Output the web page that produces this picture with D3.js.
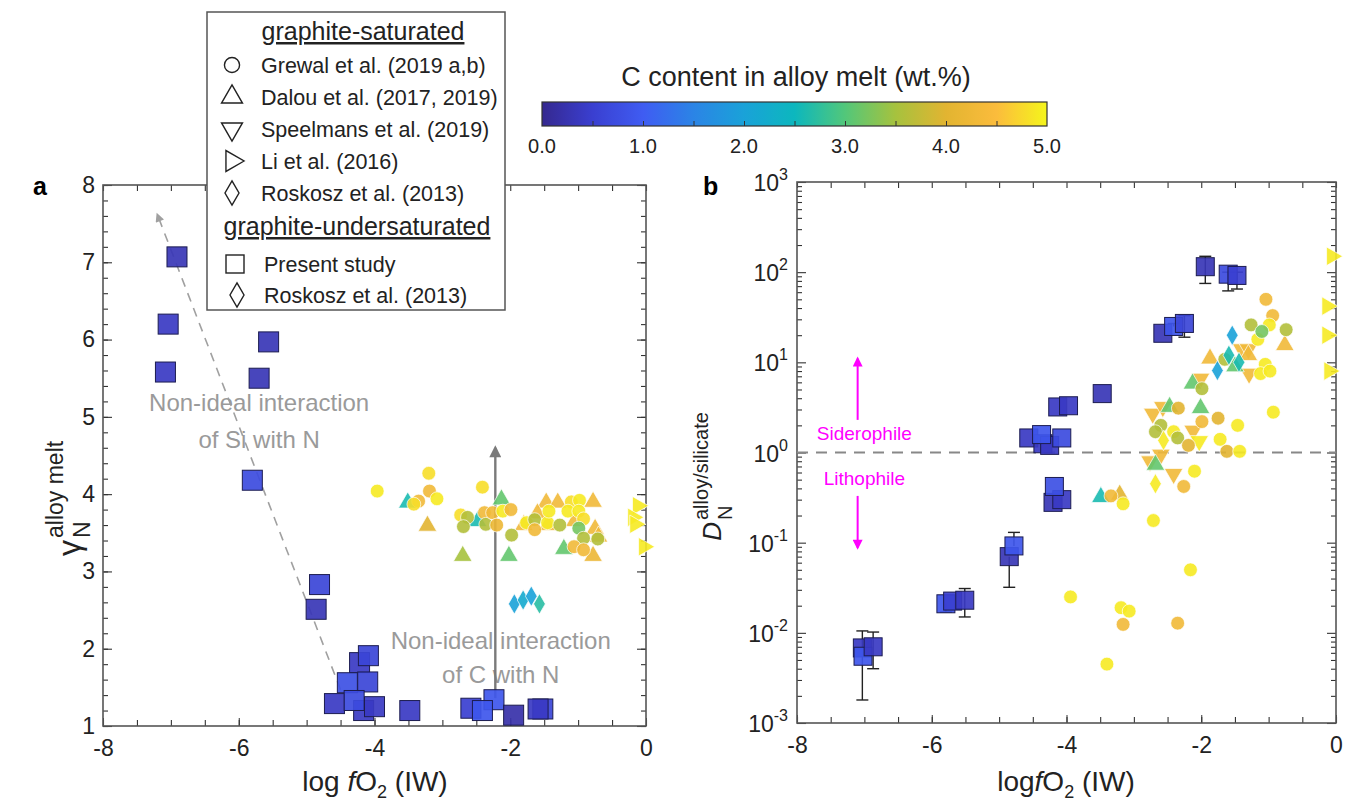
<!DOCTYPE html>
<html>
<head>
<meta charset="utf-8">
<script src="https://cdn.jsdelivr.net/npm/d3@7"></script>
<style>
  body { margin: 0; background: #fff; }
  text { font-family: "Liberation Sans", Arial, sans-serif; }
</style>
</head>
<body>
<div id="canvas"></div>
<script>
// ---- data ----
const cTicks = [0, 1, 2, 3, 4, 5];
const xTicks = [-8, -6, -4, -2, 0];
const aYTicks = [1, 2, 3, 4, 5, 6, 7, 8];
const bYExps = [-3, -2, -1, 0, 1, 2, 3];

// panel a: [log fO2, gamma_N, C wt%]
const aPresent = [
  [-6.91, 7.07, 0.3], [-7.04, 6.20, 0.4], [-7.08, 5.58, 0.4], [-5.56, 5.97, 0.3],
  [-5.70, 5.50, 0.3], [-5.80, 4.18, 0.7], [-4.81, 2.83, 0.6], [-4.86, 2.51, 0.3],
  [-4.16, 1.20, 0.4], [-4.22, 1.82, 0.4], [-4.09, 1.91, 0.6], [-4.40, 1.56, 0.8],
  [-4.10, 1.57, 0.6], [-4.59, 1.29, 0.4], [-4.30, 1.33, 0.7], [-4.00, 1.25, 0.4],
  [-3.48, 1.20, 0.4], [-2.58, 1.23, 0.5], [-2.24, 1.34, 0.9], [-2.41, 1.20, 0.9],
  [-1.95, 1.14, 0.2], [-1.52, 1.22, 0.6], [-1.59, 1.22, 0.4]
];
const aGrewal = [
  [-3.96, 4.04, 4.9], [-3.20, 4.27, 4.8], [-3.19, 4.04, 4.3], [-3.35, 3.91, 4.3],
  [-3.08, 3.94, 4.9], [-3.42, 3.87, 4.8], [-2.41, 4.09, 4.8], [-2.73, 3.73, 4.8],
  [-2.63, 3.70, 3.6], [-2.69, 3.58, 3.6], [-2.38, 3.76, 4.3], [-2.36, 3.61, 3.6],
  [-2.26, 3.76, 4.3], [-2.20, 3.60, 4.2], [-2.11, 3.78, 4.9], [-1.99, 3.80, 4.3],
  [-1.98, 3.47, 3.6], [-1.76, 3.63, 4.9], [-1.64, 3.67, 3.6], [-1.64, 3.54, 4.3],
  [-1.45, 3.63, 4.9], [-1.43, 3.78, 4.9], [-1.27, 3.60, 3.6], [-1.10, 3.90, 4.8],
  [-0.98, 3.92, 4.9], [-1.15, 3.78, 4.9], [-0.99, 3.78, 4.9], [-0.92, 3.68, 4.8],
  [-0.99, 3.56, 3.2], [-0.92, 3.43, 3.6], [-0.71, 3.42, 3.6], [-1.06, 3.32, 4.3],
  [-0.92, 3.28, 4.3]
];
const aDalou = [
  [-3.51, 3.89, 2.6], [-3.22, 3.59, 4.0], [-2.70, 3.20, 3.5], [-2.02, 3.20, 3.1],
  [-2.13, 3.93, 3.1], [-2.48, 3.65, 2.6], [-1.80, 3.60, 4.3], [-1.45, 3.60, 4.3],
  [-1.47, 3.89, 4.3], [-1.30, 3.89, 4.3], [-0.78, 3.90, 4.3], [-1.21, 3.29, 3.1],
  [-0.78, 3.20, 4.2], [-0.75, 3.55, 4.3], [-0.70, 3.45, 4.3], [-1.60, 3.75, 4.3],
  [-1.05, 3.65, 4.3]
];
const aLi = [[-0.12, 3.85, 4.9], [-0.19, 3.70, 4.9], [-0.16, 3.61, 4.9], [-0.03, 3.32, 4.9]];
const aRoskosz = [[-1.94, 2.58, 2.0], [-1.81, 2.63, 2.2], [-1.69, 2.68, 2.0], [-1.57, 2.58, 2.7]];

// panel b: [log fO2, D_N, err low, err high, C wt%]
const bPresent = [
  [-7.03, 0.0068, 0.0018, 0.0105, 0.4], [-7.02, 0.0055, null, null, 0.9], [-6.87, 0.0070, 0.0040, 0.0102, 0.4],
  [-5.79, 0.021, 0.017, null, 0.9], [-5.69, 0.0225, null, null, 0.5], [-5.51, 0.023, 0.015, 0.031, 0.4],
  [-4.85, 0.070, 0.032, null, 0.3], [-4.78, 0.092, null, 0.13, 0.9],
  [-4.20, 0.28, null, null, 0.3], [-4.07, 0.30, null, null, 0.4], [-4.18, 0.42, null, null, 0.8],
  [-4.56, 1.45, null, null, 0.4], [-4.35, 1.25, null, null, 0.4], [-4.25, 1.20, null, null, 0.4],
  [-4.37, 1.58, null, null, 0.9], [-4.07, 1.45, null, null, 0.7],
  [-4.13, 3.2, null, null, 0.4], [-3.97, 3.3, null, null, 0.4], [-3.47, 4.5, null, null, 0.3],
  [-2.57, 21, null, null, 0.3], [-2.41, 25, null, 27, 0.9], [-2.25, 27, 19, 33, 0.6],
  [-1.94, 115, 75, 150, 0.3], [-1.60, 95, 62, 100, 0.7], [-1.47, 92, 65, 100, 0.5]
];
// panel b: [log fO2, D_N, C wt%]
const bGrewal = [
  [-1.04, 50, 4.3], [-0.94, 33, 4.3], [-1.26, 26, 3.6], [-0.99, 26, 4.9], [-0.74, 23, 3.6],
  [-1.16, 18, 4.9], [-1.10, 22, 3.2], [-1.65, 10.8, 3.6], [-1.05, 9.5, 4.9], [-1.12, 7.5, 4.9],
  [-0.98, 8, 4.9], [-0.93, 2.8, 4.9], [-1.99, 5.1, 3.6], [-2.34, 3.1, 4.0], [-2.60, 2.0, 3.6],
  [-2.68, 1.7, 3.6], [-1.75, 2.4, 4.0], [-1.99, 2.2, 4.3], [-2.41, 1.7, 4.9], [-2.35, 1.45, 3.6],
  [-1.46, 2.0, 4.9], [-2.19, 1.2, 4.0], [-1.72, 1.4, 4.9], [-1.62, 1.03, 4.0], [-1.43, 1.03, 4.9],
  [-2.10, 0.62, 4.9], [-2.26, 0.42, 4.3], [-3.34, 0.33, 4.3], [-3.16, 0.27, 4.9], [-2.71, 0.176, 4.9],
  [-3.94, 0.025, 4.9], [-3.19, 0.019, 4.9], [-3.07, 0.0174, 4.9], [-3.16, 0.0124, 4.3],
  [-3.40, 0.0045, 4.9], [-2.35, 0.0128, 4.3], [-2.16, 0.05, 4.9]
];
const bDalou = [
  [-0.76, 15.5, 4.3], [-1.87, 11, 4.3], [-2.13, 5.8, 3.1], [-2.47, 3.2, 3.1], [-2.01, 3.1, 3.1],
  [-2.68, 0.73, 3.1], [-3.49, 0.32, 2.6], [-3.21, 0.34, 4.0], [-1.30, 12, 4.3], [-1.50, 9, 3.1]
];
const bSpeelmans = [
  [-1.40, 14, 4.3], [-1.30, 14, 4.3], [-1.29, 7.5, 4.3], [-2.01, 6.6, 4.3], [-2.72, 2.7, 4.3],
  [-2.57, 3.2, 4.3], [-2.12, 1.75, 4.3], [-2.03, 1.34, 4.9], [-2.76, 0.8, 4.3], [-2.60, 0.95, 4.3],
  [-2.41, 0.58, 4.3]
];
const bLi = [[-0.06, 150, 4.9], [-0.13, 42, 4.9], [-0.13, 20, 4.9], [-0.10, 8, 4.9]];
const bRoskosz = [
  [-1.54, 20, 2.0], [-1.59, 12, 2.6], [-1.44, 10, 2.6], [-1.76, 8.1, 2.0],
  [-2.56, 1.36, 4.9], [-2.68, 0.45, 4.9]
];

const legendSat = ["Grewal et al. (2019 a,b)", "Dalou et al. (2017, 2019)", "Speelmans et al. (2019)", "Li et al. (2016)", "Roskosz et al. (2013)"];
const legendUnsat = ["Present study", "Roskosz et al. (2013)"];

// ---- colour map (parula-like) ----
const cStops = [0, 0.5, 1, 1.5, 2, 2.5, 3, 3.5, 4, 4.5, 5];
const cColors = ["#35288f", "#3a3fd0", "#3f5cf2", "#2b84e6", "#1aa2d8", "#0cb7be",
                 "#52c77a", "#a6c23e", "#e2b431", "#fbbc3c", "#f5f51c"];
const color = d3.scaleLinear().domain(cStops).range(cColors).clamp(true);

const width = 1345, height = 804;
const svg = d3.select("#canvas").append("svg").attr("width", width).attr("height", height);

const xa = d3.scaleLinear().domain([-8, 0]).range([103, 646]);
const ya = d3.scaleLinear().domain([1, 8]).range([726, 185]);
const xb = d3.scaleLinear().domain([-8, 0]).range([797, 1336]);
const yb = d3.scaleLog().domain([1e-3, 1e3]).range([723, 182]);

const sym = {
  circle: d3.symbol().type(d3.symbolCircle).size(150),
  up: d3.symbol().type(d3.symbolTriangle).size(150),
  diamond: d3.symbol().type(d3.symbolDiamond).size(120)
};
const legSym = {
  circle: d3.symbol().type(d3.symbolCircle).size(180),
  up: d3.symbol().type(d3.symbolTriangle).size(190),
  diamond: d3.symbol().type(d3.symbolDiamond).size(170)
};

function clean(g) { g.select(".domain").remove(); }

function drawFrame(x, y, xMinor, yMinor, yMajor) {
  const g = svg.append("g").attr("color", "#333");
  const [x0, x1] = x.range(), [y0, y1] = y.range();
  g.append("g").attr("transform", `translate(0,${y0})`)
    .call(d3.axisBottom(x).tickValues(xMinor).tickSize(-6).tickFormat("")).call(clean);
  g.append("g").attr("transform", `translate(0,${y1})`)
    .call(d3.axisTop(x).tickValues(xMinor).tickSize(-6).tickFormat("")).call(clean);
  g.append("g").attr("transform", `translate(${x0},0)`)
    .call(d3.axisLeft(y).tickValues(yMinor).tickSize(-5).tickFormat("")).call(clean);
  g.append("g").attr("transform", `translate(${x1},0)`)
    .call(d3.axisRight(y).tickValues(yMinor).tickSize(-5).tickFormat("")).call(clean);
  g.append("g").attr("transform", `translate(${x0},0)`)
    .call(d3.axisLeft(y).tickValues(yMajor).tickSize(-9).tickFormat("")).call(clean);
  g.append("g").attr("transform", `translate(${x1},0)`)
    .call(d3.axisRight(y).tickValues(yMajor).tickSize(-9).tickFormat("")).call(clean);
  g.selectAll("line").attr("stroke-width", 1.1);
  // x labels
  const xl = g.append("g").attr("transform", `translate(0,${y0})`)
    .call(d3.axisBottom(x).tickValues(xTicks).tickSize(-8).tickPadding(14).tickFormat(d => d))
    .call(clean);
  xl.selectAll("text").attr("font-size", 23).attr("fill", "#222")
    .attr("font-family", "Liberation Sans, Arial, sans-serif");
  g.append("rect").attr("x", x0).attr("y", y1).attr("width", x1 - x0).attr("height", y0 - y1)
    .attr("fill", "none").attr("stroke", "#555").attr("stroke-width", 1.6);
  return g;
}

// ---------- panel a ----------
const aMinorX = d3.range(-8, 0.01, 0.5);
const aMinorY = d3.range(1, 8.01, 0.2);
const fa = drawFrame(xa, ya, aMinorX, aMinorY, aYTicks);
const yla = fa.append("g").attr("transform", `translate(${xa.range()[0]},0)`)
  .call(d3.axisLeft(ya).tickValues(aYTicks).tickSize(0).tickPadding(8).tickFormat(d => d)).call(clean);
yla.selectAll("text").attr("font-size", 23).attr("fill", "#222")
  .attr("font-family", "Liberation Sans, Arial, sans-serif");

// annotations panel a
const defs = svg.append("defs");
function head(id, col, w, h) {
  defs.append("marker").attr("id", id).attr("viewBox", "0 0 10 10").attr("refX", 8).attr("refY", 5)
    .attr("markerWidth", w).attr("markerHeight", h).attr("orient", "auto-start-reverse")
    .attr("markerUnits", "userSpaceOnUse")
    .append("path").attr("d", "M0,0 L10,5 L0,10 z").attr("fill", col);
}
head("hGreyD", "#a0a0a0", 11, 9);
head("hGrey", "#7a7a7a", 15, 12);
head("hMag", "#ff00ff", 12, 10);

const plotA = svg.append("g");
plotA.append("line")
  .attr("x1", xa(-4.5)).attr("y1", ya(1.47)).attr("x2", xa(-7.2)).attr("y2", ya(7.62))
  .attr("stroke", "#a0a0a0").attr("stroke-width", 1.6).attr("stroke-dasharray", "9,7")
  .attr("marker-end", "url(#hGreyD)");

const annA = [
  { t: "Non-ideal interaction", x: -5.7, y: 5.07 },
  { t: "of Si with N", x: -5.7, y: 4.6 },
  { t: "Non-ideal interaction", x: -2.14, y: 2.0 },
  { t: "of C with N", x: -2.14, y: 1.55 }
];
plotA.selectAll("text.ann").data(annA).enter().append("text")
  .attr("x", d => xa(d.x)).attr("y", d => ya(d.y)).attr("text-anchor", "middle")
  .attr("font-size", 24).attr("fill", "#9a9a9a").text(d => d.t);

plotA.append("line")
  .attr("x1", xa(-2.22)).attr("y1", ya(1.36)).attr("x2", xa(-2.22)).attr("y2", ya(4.6))
  .attr("stroke", "#7a7a7a").attr("stroke-width", 2.4).attr("marker-end", "url(#hGrey)");

function drawSquares(g, data, x, y, s) {
  g.selectAll(null).data(data).enter().append("rect")
    .attr("x", d => x(d[0]) - s / 2).attr("y", d => y(d[1]) - s / 2)
    .attr("width", s).attr("height", s)
    .attr("fill", d => color(d[d.length - 1])).attr("fill-opacity", 0.92)
    .attr("stroke", "#1c1c50").attr("stroke-width", 1);
}
function drawSym(g, data, x, y, gen, rot) {
  g.selectAll(null).data(data).enter().append("path")
    .attr("d", gen)
    .attr("transform", d => `translate(${x(d[0])},${y(d[1])}) rotate(${rot || 0})`)
    .attr("fill", d => color(d[2])).attr("fill-opacity", 0.9)
    .attr("stroke", "#ffffff").attr("stroke-opacity", 0.7).attr("stroke-width", 1);
}

drawSquares(plotA, aPresent, xa, ya, 20);
drawSym(plotA, aDalou, xa, ya, sym.up);
drawSym(plotA, aGrewal, xa, ya, sym.circle);
drawSym(plotA, aLi, xa, ya, sym.up, 90);
drawSym(plotA, aRoskosz, xa, ya, sym.diamond);

// axis titles
function xTitle(cx, gap) {
  const t = svg.append("text").attr("x", cx).attr("y", 791).attr("text-anchor", "middle")
    .attr("font-size", 28).attr("fill", "#222");
  t.append("tspan").text(gap ? "log " : "log");
  t.append("tspan").attr("font-style", "italic").text("f");
  t.append("tspan").text("O");
  t.append("tspan").attr("font-size", 18).attr("dy", 7).text("2");
  t.append("tspan").attr("dy", -7).text(" (IW)");
}
xTitle(375, true);
xTitle(1066, false);

const ga = svg.append("g").attr("transform", "translate(80,540) rotate(-90)").attr("fill", "#222");
ga.append("text").attr("text-anchor", "end").attr("font-size", 32).text("γ");
ga.append("text").attr("x", 2).attr("y", 10).attr("font-size", 23).text("N");
ga.append("text").attr("x", 2).attr("y", -17).attr("font-size", 23).text("alloy melt");

// ---------- panel b ----------
const bMinorY = [];
for (let e = -3; e < 3; e++) for (let k = 2; k <= 9; k++) bMinorY.push(k * Math.pow(10, e));
const fb = drawFrame(xb, yb, aMinorX, bMinorY, bYExps.map(e => Math.pow(10, e)));
const ylb = fb.append("g").selectAll("text").data(bYExps).enter().append("text")
  .attr("x", xb.range()[0] - 9).attr("y", d => yb(Math.pow(10, d)) + 9)
  .attr("text-anchor", "end").attr("font-size", 23).attr("fill", "#222");
ylb.append("tspan").text("10");
ylb.append("tspan").attr("font-size", 16).attr("dy", -11).text(d => d);

const plotB = svg.append("g");
plotB.append("line").attr("x1", xb(-8)).attr("x2", xb(0)).attr("y1", yb(1)).attr("y2", yb(1))
  .attr("stroke", "#888").attr("stroke-width", 2).attr("stroke-dasharray", "11,8");

plotB.append("text").attr("x", xb(-7.0)).attr("y", yb(1) - 13).attr("text-anchor", "middle")
  .attr("font-family", "Lato, 'Noto Sans', sans-serif").attr("font-size", 19).attr("fill", "#ff00ff")
  .text("Siderophile");
plotB.append("text").attr("x", xb(-7.0)).attr("y", yb(1) + 32).attr("text-anchor", "middle")
  .attr("font-family", "Lato, 'Noto Sans', sans-serif").attr("font-size", 19).attr("fill", "#ff00ff")
  .text("Lithophile");
plotB.append("line").attr("x1", xb(-7.1)).attr("x2", xb(-7.1)).attr("y1", yb(2.3)).attr("y2", yb(11))
  .attr("stroke", "#ff00ff").attr("stroke-width", 2).attr("marker-end", "url(#hMag)");
plotB.append("line").attr("x1", xb(-7.1)).attr("x2", xb(-7.1)).attr("y1", yb(0.33)).attr("y2", yb(0.088))
  .attr("stroke", "#ff00ff").attr("stroke-width", 2).attr("marker-end", "url(#hMag)");

// error bars
const eb = plotB.append("g").attr("stroke", "#222").attr("stroke-width", 1.4);
bPresent.forEach(d => {
  const lo = d[2] || d[1], hi = d[3] || d[1];
  eb.append("line").attr("x1", xb(d[0])).attr("x2", xb(d[0])).attr("y1", yb(lo)).attr("y2", yb(hi));
  if (d[2]) eb.append("line").attr("x1", xb(d[0]) - 6).attr("x2", xb(d[0]) + 6).attr("y1", yb(lo)).attr("y2", yb(lo));
  if (d[3]) eb.append("line").attr("x1", xb(d[0]) - 6).attr("x2", xb(d[0]) + 6).attr("y1", yb(hi)).attr("y2", yb(hi));
});
drawSquares(plotB, bPresent, xb, yb, 18);
drawSym(plotB, bSpeelmans, xb, yb, sym.up, 180);
drawSym(plotB, bDalou, xb, yb, sym.up);
drawSym(plotB, bGrewal, xb, yb, sym.circle);
drawSym(plotB, bRoskosz, xb, yb, sym.diamond);
drawSym(plotB, bLi, xb, yb, sym.up, 90);

const gb = svg.append("g").attr("transform", "translate(721,522) rotate(-90)").attr("fill", "#222");
gb.append("text").attr("text-anchor", "end").attr("font-size", 26).attr("font-style", "italic").text("D");
gb.append("text").attr("x", 2).attr("y", 11).attr("font-size", 20).text("N");
gb.append("text").attr("x", 2).attr("y", -13).attr("font-size", 20).text("alloy/silicate");

// panel letters
svg.append("text").attr("x", 33).attr("y", 195).attr("font-size", 25).attr("font-weight", "bold").text("a");
svg.append("text").attr("x", 703).attr("y", 195).attr("font-size", 25).attr("font-weight", "bold").text("b");

// ---------- colour bar ----------
const cx = d3.scaleLinear().domain([0, 5]).range([542, 1047]);
const grad = defs.append("linearGradient").attr("id", "cbar");
grad.selectAll("stop").data(d3.range(0, 5.001, 0.1)).enter().append("stop")
  .attr("offset", d => d / 5).attr("stop-color", d => color(d));
svg.append("rect").attr("x", 542).attr("y", 102).attr("width", 505).attr("height", 24)
  .attr("fill", "url(#cbar)").attr("stroke", "#333").attr("stroke-width", 1.2);
const cax = svg.append("g").attr("transform", "translate(0,126)")
  .call(d3.axisBottom(cx).tickValues(d3.range(0.5, 5, 0.5)).tickSize(-5).tickFormat("")).call(clean);
cax.selectAll("line").attr("stroke", "#333");
svg.append("g").selectAll("text").data(cTicks).enter().append("text")
  .attr("x", d => cx(d)).attr("y", 153).attr("text-anchor", "middle")
  .attr("font-size", 20).attr("fill", "#222").text(d => d.toFixed(1));
svg.append("text").attr("x", 796).attr("y", 86).attr("text-anchor", "middle")
  .attr("font-size", 27).attr("fill", "#222").text("C content in alloy melt (wt.%)");

// ---------- legend ----------
const lg = svg.append("g");
lg.append("rect").attr("x", 207).attr("y", 12).attr("width", 298).attr("height", 298)
  .attr("fill", "#fff").attr("stroke", "#555").attr("stroke-width", 1.5);
function header(t, cxp, y) {
  lg.append("text").attr("x", cxp).attr("y", y).attr("text-anchor", "middle")
    .attr("font-size", 25).attr("text-decoration", "underline").attr("fill", "#222").text(t);
}
header("graphite-saturated", 363, 40);
header("graphite-undersaturated", 357, 235);
const legSyms = [[legSym.circle, 0], [legSym.up, 0], [legSym.up, 180], [legSym.up, 90], [legSym.diamond, 0]];
legendSat.forEach((t, i) => {
  const y = 65 + i * 32;
  lg.append("path").attr("d", legSyms[i][0]).attr("transform", `translate(232,${y}) rotate(${legSyms[i][1]})`)
    .attr("fill", "none").attr("stroke", "#222").attr("stroke-width", 1.4);
  lg.append("text").attr("x", 261).attr("y", y + 7.5).attr("font-size", 21.5).attr("fill", "#222").text(t);
});
legendUnsat.forEach((t, i) => {
  const y = 264 + i * 31;
  if (i === 0) {
    lg.append("rect").attr("x", 226).attr("y", y - 9).attr("width", 18).attr("height", 18)
      .attr("fill", "none").attr("stroke", "#222").attr("stroke-width", 1.4);
  } else {
    lg.append("path").attr("d", legSym.diamond).attr("transform", `translate(237,${y})`)
      .attr("fill", "none").attr("stroke", "#222").attr("stroke-width", 1.4);
  }
  lg.append("text").attr("x", 264).attr("y", y + 7.5).attr("font-size", 21.5).attr("fill", "#222").text(t);
});
</script>
</body>
</html>
